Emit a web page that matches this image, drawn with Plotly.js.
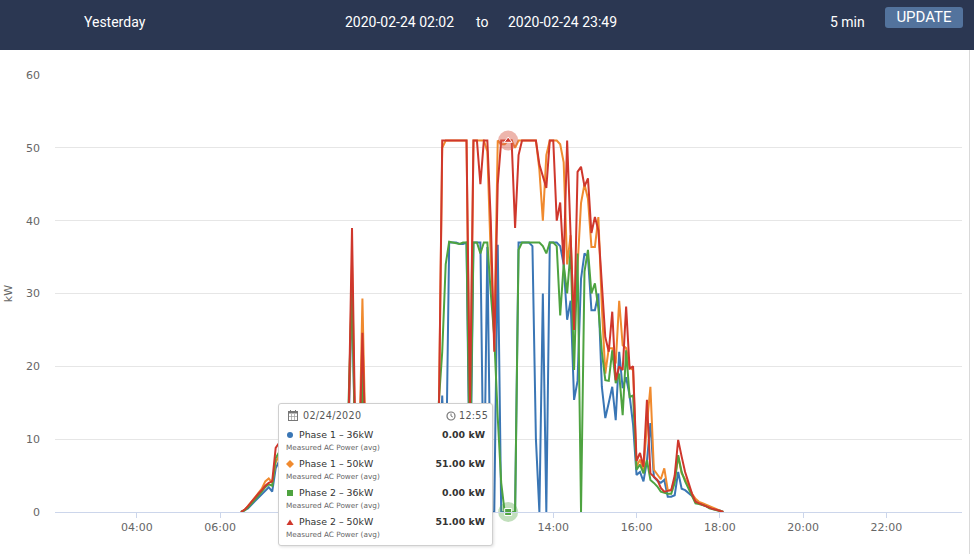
<!DOCTYPE html>
<html>
<head>
<meta charset="utf-8">
<script src="https://cdn.plot.ly/plotly-3.0.1.min.js"></script>
<style>
html,body{margin:0;padding:0;width:974px;height:554px;overflow:hidden;background:#fff;font-family:"DejaVu Sans",sans-serif;}
#chart{position:absolute;left:0;top:0;width:974px;height:554px;}
#hdr{position:absolute;left:0;top:0;width:974px;height:50px;background:#2b3752;color:#fff;font-family:Roboto,sans-serif;font-size:14px;}
#hdr .t{position:absolute;top:13px;line-height:18px;white-space:nowrap;}
#upd{position:absolute;left:885px;top:7px;width:78px;height:21px;background:#53739d;border-radius:3px;color:#fff;font-size:15px;line-height:21px;text-align:center;}
#rline{position:absolute;left:969px;top:50px;width:1px;height:504px;background:#d9d9d9;}
#tip{position:absolute;left:278px;top:403px;width:213px;height:141px;background:#fff;border:1px solid #cfcfcf;border-radius:3px;box-shadow:1px 1px 3px rgba(0,0,0,0.12);font-family:"DejaVu Sans",sans-serif;color:#333;}
#tip .a{position:absolute;white-space:nowrap;line-height:12px;}
#tip .hd{font-size:9.6px;color:#555;letter-spacing:0.3px;}
#tip .nm{font-size:9.4px;color:#333;left:20px;}
#tip .sb{font-size:7.3px;color:#666;left:7px;}
#tip .vl{font-size:9.4px;font-weight:bold;color:#333;right:7px;text-align:right;}
#tip svg{position:absolute;}
</style>
</head>
<body>
<div id="chart"></div>
<div id="hdr">
  <span class="t" style="left:84px">Yesterday</span>
  <span class="t" style="left:345px">2020-02-24 02:02</span>
  <span class="t" style="left:476px">to</span>
  <span class="t" style="left:508px">2020-02-24 23:49</span>
  <span class="t" style="left:830px">5 min</span>
  <div id="upd">UPDATE</div>
</div>
<div id="rline"></div>
<div id="tip"></div>
<script>
// ---- data (5-min samples starting 06:30) ----
const dayPrefix = '2020-02-24 ';
const startTime = '06:30';
const stepMinutes = 5;

const seriesNames = ['Phase 1 – 36kW', 'Phase 1 – 50kW', 'Phase 2 – 36kW', 'Phase 2 – 50kW'];
const seriesSub = 'Measured AC Power (avg)';
const seriesColors = ['#3a76b5', '#f08a2e', '#4ea340', '#cf372c'];
const seriesSymbols = ['circle', 'diamond', 'square', 'triangle-up'];

const phase1_36 = [
  0, 0.2, 0.5, 1.0, 1.5, 2.0,
  2.5, 3.0, 3.4, 2.8, 6.0, 7.0, 7.5, 8.0, 8.4, 8.8, 9.0, 9.5,
  9.8, 10.2, 10.5, 10.0, 10.8, 11.2, 11.0, 11.6, 12.0, 11.5, 12.2, 12.5,
  11.5, 11, 30, 6, 5, 22, 6, 5, 4, 4.5, 5, 5.5,
  6, 6.5, 7, 7.5, 8, 8.5, 9, 9.5, 10, 10, 10.5, 11,
  11, 10, 8, 5, 16, 2, 37, 37, 37, 36.8, 36.8, 37,
  0, 37, 37, 37, 0, 36.4, 0, 0, 36.7, 0, 0, 0,
  0, 0, 37, 37, 37, 37, 36.5, 10, 0, 30, 0, 37,
  37, 37, 36.5, 34, 26.4, 29, 15.4, 18, 32, 35.5, 35, 27.7,
  27.7, 30, 17.2, 12.9, 15, 17.2, 12.6, 22, 17, 18.5, 16, 12,
  5.1, 5.5, 4.2, 7, 12.2, 4.8, 4.3, 4, 4.4, 2.1, 2.1, 2.3,
  5.5, 3.2, 3.0, 2.6, 2.2, 1.6, 1.2, 1.0, 0.8, 0.6, 0.4, 0.3,
  0.2, 0
];
const phase1_50 = [
  0, 0.3, 0.8, 1.4, 2.0, 2.6,
  3.2, 4.2, 4.6, 4.0, 6.8, 7.8, 8.5, 9, 9.4, 9.8, 10, 10.5,
  10.8, 11.2, 11.5, 11, 11.8, 12.2, 12, 12.6, 13, 12.5, 13.2, 13.5,
  12.5, 12, 34, 7, 6, 29.3, 7, 6, 5, 5.5, 6, 6.5,
  7, 7.5, 8, 8.5, 9, 9.5, 10, 10.5, 11, 11, 11.5, 12,
  12, 11, 10, 12, 50, 51, 51, 51, 51, 51, 51, 51,
  10, 51, 51, 51, 51, 49.5, 35, 24, 51, 50.5, 50.5, 51,
  51, 50, 51, 51, 51, 51, 51, 51, 47, 40, 49, 51,
  51, 51, 50.5, 48, 34, 38, 25, 34.1, 42.4, 45, 43, 36.4,
  36.4, 40.5, 28.2, 19, 22.5, 22.5, 20.4, 29, 22.9, 22.5, 19.8, 19.5,
  6.2, 7.2, 5.8, 12, 17.2, 5.8, 5.2, 4.5, 6, 3, 3, 4.5,
  7.6, 5.3, 4.5, 3.5, 2.5, 1.8, 1.4, 1.2, 1.0, 0.7, 0.5, 0.3,
  0.1, 0
];
const phase2_36 = [
  0, 0.2, 0.6, 1.1, 1.6, 2.2,
  2.8, 3.4, 3.8, 3.6, 7.4, 8.2, 8.6, 9, 9.3, 9.6, 10, 10.4,
  10.6, 11, 11.4, 11, 11.6, 12, 11.8, 12.4, 12.8, 12.3, 13, 13.3,
  13, 15, 31, 6, 5, 19, 5, 5, 4.5, 5, 5.5, 6,
  6.5, 7, 7.5, 8, 8.5, 9, 9.5, 10, 10.5, 10.5, 11, 11.5,
  11.5, 11, 10, 15, 22, 34, 37.1, 37, 37, 36.8, 37, 37,
  5, 37, 37, 35.5, 37, 37, 30, 24, 13, 4, 0, 0,
  0, 0, 36, 37, 37, 37, 37, 37, 37, 36.5, 35.5, 37,
  37, 36.5, 27, 34, 30, 36, 19.5, 35.5, 0, 33, 36, 30,
  31.4, 28, 22, 18.1, 18, 22.2, 17.7, 19, 13.3, 22.2, 15.8, 16,
  5.8, 6.5, 5.3, 7.1, 4.4, 4, 3.5, 2.8, 2.6, 2.5, 2.5, 4,
  7.8, 5.5, 4.2, 3.2, 2.2, 1.2, 1.1, 1.0, 0.8, 0.5, 0.4, 0.2,
  0.1, 0
];
const phase2_50 = [
  0, 0.3, 0.8, 1.4, 2.0, 2.5,
  3.0, 3.6, 4.0, 4.2, 8.8, 9.5, 10, 10.5, 10.8, 11.2, 11.5, 12,
  12.2, 12.6, 13, 12.5, 13.2, 13.6, 13.4, 14, 14.2, 13.8, 14.4, 14.6,
  13.5, 12, 39, 8, 6, 24.6, 7, 6, 5, 5.5, 6, 6.5,
  7, 7.5, 8, 8.5, 9, 9.5, 10, 10.5, 11, 11, 11.5, 12,
  12, 11, 10, 12, 51, 51, 51, 51, 51, 51, 51, 51,
  14, 51, 51, 45, 51, 51, 40, 22, 45, 51, 51, 51,
  51, 39, 49, 51, 51, 51, 51, 51, 47.7, 46, 44.5, 51,
  51, 40, 42.5, 34, 51, 38, 25, 46.7, 47.4, 44.7, 45.8, 38.3,
  40.5, 38.7, 31, 24, 22, 27.5, 18.1, 20, 19.5, 28.2, 19.7, 20,
  7, 8.1, 6.2, 15.4, 5.3, 4.8, 4.4, 3.3, 2.8, 2.9, 3, 5,
  9.9, 7.6, 5.5, 4, 2.5, 1.4, 1.2, 1.0, 0.8, 0.5, 0.4, 0.3,
  0.1, 0
];
const seriesValues = [phase1_36, phase1_50, phase2_36, phase2_50];

const xRange = ['2020-02-24 02:02', '2020-02-24 23:49'];
// even-hour ticks; labels under the open tooltip (08:00–12:00) are covered in the reference
const xTickHours = ['04:00', '06:00', '08:00', '10:00', '12:00', '14:00', '16:00', '18:00', '20:00', '22:00'];
const xTickHidden = ['08:00', '10:00', '12:00'];
const yTicks = [0, 10, 20, 30, 40, 50, 60];
const hoverTime = '12:55';
const hoverDate = '02/24/2020';

// ---- build time axis ----
function pad(n){ return (n < 10 ? '0' : '') + n; }
const startMin = parseInt(startTime.slice(0,2)) * 60 + parseInt(startTime.slice(3));
const times = phase1_36.map((_, i) => {
  const m = startMin + i * stepMinutes;
  return dayPrefix + pad(Math.floor(m / 60)) + ':' + pad(m % 60);
});
const hoverIdx = times.indexOf(dayPrefix + hoverTime);

const traces = seriesValues.map((vals, k) => ({
  type: 'scatter', mode: 'lines', x: times, y: vals, name: seriesNames[k],
  line: {color: seriesColors[k], width: 2}, hoverinfo: 'skip'
}));
// hover highlight markers (only for Phase 2 series, as in the reference)
const haloColors = ['rgba(58,118,181,0.3)', 'rgba(240,138,46,0.35)', 'rgba(78,163,64,0.35)', 'rgba(214,90,70,0.45)'];
[3, 2].forEach(k => {
  traces.push({type:'scatter', mode:'markers', x:[times[hoverIdx]], y:[seriesValues[k][hoverIdx]],
    marker:{size:20, color:haloColors[k]}, hoverinfo:'skip', showlegend:false, cliponaxis:false});
  traces.push({type:'scatter', mode:'markers', x:[times[hoverIdx]], y:[seriesValues[k][hoverIdx]],
    marker:{size:7, symbol:seriesSymbols[k], color:seriesColors[k], line:{color:'#fff', width:1}},
    hoverinfo:'skip', showlegend:false, cliponaxis:false});
});

const layout = {
  width: 974, height: 554,
  margin: {l: 55, r: 12, t: 75, b: 42},
  paper_bgcolor: '#fff', plot_bgcolor: '#fff',
  showlegend: false,
  font: {family: '"DejaVu Sans", sans-serif', size: 11, color: '#666'},
  xaxis: {
    type: 'date', range: xRange,
    tickvals: xTickHours.map(h => dayPrefix + h),
    ticktext: xTickHours.map(h => xTickHidden.includes(h) ? '' : h),
    showgrid: false, zeroline: false, showline: true, linecolor: '#ccd6eb', linewidth: 1,
    ticks: 'outside', ticklen: 5, tickcolor: '#ccd6eb', tickwidth: 1,
    tickfont: {size: 11, color: '#666'}, fixedrange: true
  },
  yaxis: {
    range: [0, 60], tickvals: yTicks, ticktext: yTicks.map(String),
    showgrid: true, gridcolor: '#e6e6e6', gridwidth: 1, zeroline: false, showline: false,
    ticks: '', ticklabelstandoff: 14,
    tickfont: {size: 11, color: '#666'},
    title: {text: 'kW', font: {size: 11, color: '#666'}, standoff: 11}, fixedrange: true
  }
};

Plotly.newPlot('chart', traces, layout, {displayModeBar: false, staticPlot: true});

// ---- tooltip ----
const tip = document.getElementById('tip');
let html = '';
html += '<svg style="left:9px;top:6px" width="10" height="11" viewBox="0 0 10 11">' +
  '<rect x="0.5" y="1.5" width="9" height="9" fill="none" stroke="#777" stroke-width="1"/>' +
  '<rect x="0.5" y="1.5" width="9" height="2" fill="#777"/>' +
  '<line x1="2.5" y1="0" x2="2.5" y2="2.5" stroke="#777"/><line x1="7.5" y1="0" x2="7.5" y2="2.5" stroke="#777"/>' +
  '<line x1="3.5" y1="4" x2="3.5" y2="10" stroke="#999" stroke-width="0.7"/><line x1="6.5" y1="4" x2="6.5" y2="10" stroke="#999" stroke-width="0.7"/>' +
  '<line x1="1" y1="6.5" x2="9" y2="6.5" stroke="#999" stroke-width="0.7"/></svg>';
html += '<div class="a hd" style="left:24px;top:6px">' + hoverDate + '</div>';
html += '<svg style="left:167px;top:7px" width="10" height="10" viewBox="0 0 10 10">' +
  '<circle cx="5" cy="5" r="4" fill="none" stroke="#777" stroke-width="1.2"/>' +
  '<line x1="5" y1="5" x2="5" y2="2.5" stroke="#777"/><line x1="5" y1="5" x2="6.8" y2="6" stroke="#777"/></svg>';
html += '<div class="a hd" style="left:180px;top:6px">' + hoverTime + '</div>';
const markerSvg = [
  '<circle cx="4" cy="4" r="3" fill="COL"/>',
  '<polygon points="4,0 8,4 4,8 0,4" fill="COL"/>',
  '<rect x="1" y="1" width="6" height="6" fill="COL"/>',
  '<polygon points="4,1.5 7.5,7 0.5,7" fill="COL"/>'
];
seriesNames.forEach((nm, k) => {
  const cy = 32 + k * 29;
  html += '<svg style="left:7px;top:' + (cy - 5) + 'px" width="8" height="8" viewBox="0 0 8 8">' +
    markerSvg[k].replace('COL', seriesColors[k]) + '</svg>';
  html += '<div class="a nm" style="top:' + (cy - 7) + 'px">' + nm + '</div>';
  html += '<div class="a vl" style="top:' + (cy - 7) + 'px">' + seriesValues[k][hoverIdx].toFixed(2) + ' kW</div>';
  html += '<div class="a sb" style="top:' + (cy + 6) + 'px">' + seriesSub + '</div>';
});
tip.innerHTML = html;
</script>
</body>
</html>
